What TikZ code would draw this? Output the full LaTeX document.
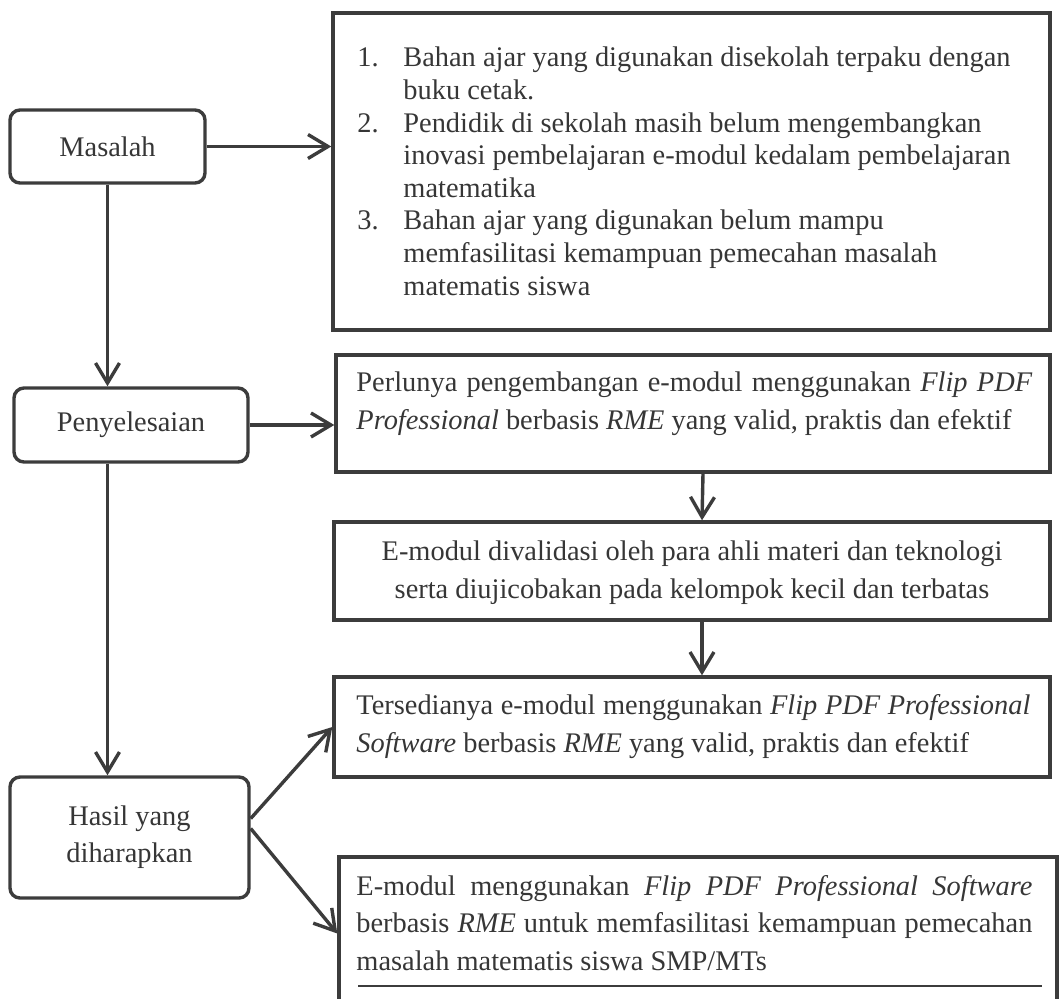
\documentclass[tikz,border=0pt]{standalone}
\usepackage{fontspec}
\setmainfont{Liberation Serif}
\usetikzlibrary{arrows.meta}

\definecolor{inkgray}{HTML}{3C3C3C}
\definecolor{textgray}{HTML}{363636}

\tikzset{
  roundbox/.style={draw=inkgray, line width=1.7pt, rounded corners=5pt, inner sep=0pt,
    align=center, text=textgray, font=\fontsize{14.2}{18.5}\selectfont},
  sqbox/.style={draw=inkgray, line width=1.7pt, inner sep=0pt},
  txt/.style={inner sep=0pt, anchor=base west, align=left, text=textgray,
    font=\fontsize{14.2}{18.75}\selectfont},
  flow/.style={draw=inkgray, line width=1.7pt, -{Straight Barb[length=10pt,width=12pt]}}
}

\begin{document}
\begin{tikzpicture}[x=0.5pt, y=-0.5pt]
            \useasboundingbox (0,0) rectangle (1060,998);

            % left column
            \node[roundbox, minimum width=97.5pt, minimum height=36.5pt] (masalah) at (107.5,146.5) {Masalah};
            \node[roundbox, minimum width=117pt, minimum height=37pt] (penyelesaian) at (131,425) {Penyelesaian};
            \node[roundbox, minimum width=119.5pt, minimum height=60.5pt] (hasil) at (129.5,837.5) {Hasil yang\\diharapkan};

            % right column boxes
            \node[sqbox, minimum width=358.5pt, minimum height=158.5pt] (masalahbox) at (691.5,171.5) {};
            \node[sqbox, minimum width=357pt, minimum height=58.5pt] (solusibox) at (693,413.5) {};
            \node[sqbox, minimum width=358pt, minimum height=49pt] (validasibox) at (692,571) {};
            \node[sqbox, minimum width=358pt, minimum height=50pt] (tersediabox) at (692,727) {};
            \node[sqbox, minimum width=359pt, minimum height=76.5pt] (hasilbox) at (698,933.5) {};

            % texts (anchored at the baseline of the last line)
            \node[txt, font=\fontsize{14.2}{16.3}\selectfont] (masalahtext) at (357,295) {%
              \makebox[23pt][l]{1.}Bahan ajar yang digunakan disekolah terpaku dengan\\
              \hspace*{23pt}buku cetak.\\
              \makebox[23pt][l]{2.}Pendidik di sekolah masih belum mengembangkan\\
              \hspace*{23pt}inovasi pembelajaran e-modul kedalam pembelajaran\\
              \hspace*{23pt}matematika\\
              \makebox[23pt][l]{3.}Bahan ajar yang digunakan belum mampu\\
              \hspace*{23pt}memfasilitasi kemampuan pemecahan masalah\\
              \hspace*{23pt}matematis siswa};
            \node[txt] (solusitext) at (356,429) {%
              \makebox[338pt][s]{Perlunya pengembangan e-modul menggunakan \textit{Flip PDF}}\\
              \textit{Professional} berbasis \textit{RME} yang valid, praktis dan efektif};
            \node[txt, anchor=base, align=center] (validasitext) at (692,598) {%
              E-modul divalidasi oleh para ahli materi dan teknologi\\
              serta diujicobakan pada kelompok kecil dan terbatas};
            \node[txt] (tersediatext) at (356,752) {%
              \makebox[337pt][s]{Tersedianya e-modul menggunakan \textit{Flip PDF Professional}}\\
              \textit{Software} berbasis \textit{RME} yang valid, praktis dan efektif};
            \node[txt] (hasiltext) at (356,970) {%
              \makebox[338pt][s]{E-modul menggunakan \textit{Flip PDF Professional Software}}\\
              \makebox[338pt][s]{berbasis \textit{RME} untuk memfasilitasi kemampuan pemecahan}\\
              masalah matematis siswa SMP/MTs};
            \draw[inkgray, line width=0.6pt] (358,986) -- (1042,986);

            % connectors
            \draw[flow] (masalah.east) -- (masalah.east -| masalahbox.west);
            \draw[flow] (masalah.south) -- (masalah.south |- penyelesaian.north);
            \draw[flow] (penyelesaian.east) -- (penyelesaian.east -| solusibox.west);
            \draw[flow] (masalah.south |- penyelesaian.south) -- (masalah.south |- hasil.north);
            \draw[flow] ([xshift=5pt]solusibox.south) -- ([xshift=5pt]validasibox.north);
            \draw[flow] ([xshift=5pt]validasibox.south) -- ([xshift=5pt]tersediabox.north);
            \draw[flow] ([yshift=9.5pt]hasil.east) -- (tersediabox.west);
            \draw[flow] ([yshift=4.5pt]hasil.east) -- (hasilbox.west);
        \end{tikzpicture}
\end{document}
